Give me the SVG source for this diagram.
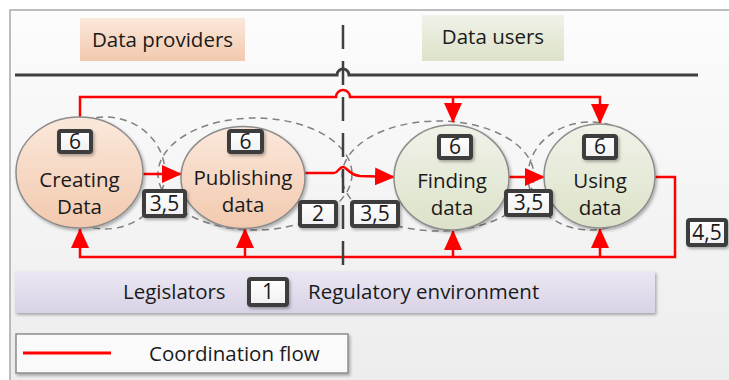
<svg xmlns="http://www.w3.org/2000/svg" width="729" height="380" viewBox="0 0 729 380">
<defs>
<linearGradient id="bg" x1="0" y1="0" x2="0" y2="1"><stop offset="0" stop-color="#fcfcfc"/><stop offset="1" stop-color="#ececec"/></linearGradient>
<linearGradient id="peach" x1="0" y1="0" x2="0" y2="1"><stop offset="0" stop-color="#fbe8db"/><stop offset="1" stop-color="#f2c9ae"/></linearGradient>
<linearGradient id="green" x1="0" y1="0" x2="0" y2="1"><stop offset="0" stop-color="#f0f2e8"/><stop offset="1" stop-color="#dce2c9"/></linearGradient>
<linearGradient id="lav" x1="0" y1="0" x2="0" y2="1"><stop offset="0" stop-color="#ebe8f2"/><stop offset="1" stop-color="#d8d2e6"/></linearGradient>
<linearGradient id="wbox" x1="0" y1="0" x2="0" y2="1"><stop offset="0" stop-color="#ffffff"/><stop offset="1" stop-color="#f0f0f0"/></linearGradient>
<filter id="sh" x="-20%" y="-20%" width="140%" height="150%"><feDropShadow dx="1.5" dy="2" stdDeviation="1.5" flood-color="#000" flood-opacity="0.3"/></filter>
<marker id="ah" viewBox="0 0 20 18" refX="19" refY="9" markerWidth="20" markerHeight="18" markerUnits="userSpaceOnUse" orient="auto"><path d="M0,0 L20,9 L0,18 z" fill="#ff0000"/></marker>
<style>
text{font-family:"Open Sans","Liberation Sans",sans-serif;font-size:20.5px;fill:#1a1a1a}
.c{text-anchor:middle}
.n{font-size:21px}
.red{fill:none;stroke:#ff0000;stroke-width:2.5}
.dash{fill:none;stroke:#808080;stroke-width:1.5;stroke-dasharray:7 5}
.num{fill:url(#wbox);stroke:#3c3c3c;stroke-width:4;filter:url(#sh)}
.node{stroke:#8c8c8c;stroke-width:1.5;filter:url(#sh)}
</style>
</defs>
<rect x="10" y="10" width="740" height="390" fill="url(#bg)" stroke="#a8a8a8" stroke-width="1.5"/>
<g id="header-providers"><rect x="80" y="18" width="165" height="43" fill="url(#peach)"/><text class="c" x="162.5" y="47">Data providers</text></g>
<g id="header-users"><rect x="422" y="15" width="142" height="46" fill="url(#green)"/><text class="c" x="493" y="44">Data users</text></g>
<path d="M15,75 H337 A6,6 0 0 1 349,75 H698" fill="none" stroke="#404040" stroke-width="3"/>
<g id="zones">
<ellipse class="dash" cx="105" cy="173" rx="60" ry="56"/>
<ellipse class="dash" cx="255" cy="174" rx="97" ry="56"/>
<ellipse class="dash" cx="438" cy="176" rx="96" ry="55"/>
<ellipse class="dash" cx="590" cy="176" rx="62" ry="54"/>
</g>
<g id="connectors">
<path class="red" d="M80,119 V97 H336 A7,7 0 0 1 350,97 H600 V123" marker-end="url(#ah)"/>
<path class="red" d="M453,97 V122" marker-end="url(#ah)"/>
<path class="red" d="M143,174 H181" marker-end="url(#ah)"/>
<path class="red" d="M305,173 L334,173 C338,173 339,167 343,167 C347,167 349,175 360,176 L394,177" marker-end="url(#ah)"/>
<path class="red" d="M509,177 H544" marker-end="url(#ah)"/>
<path class="red" d="M655,177 H675 V257 H80 V229" marker-end="url(#ah)"/>
<path class="red" d="M245,257 V229" marker-end="url(#ah)"/>
<path class="red" d="M453,257 V231" marker-end="url(#ah)"/>
<path class="red" d="M600,257 V229" marker-end="url(#ah)"/>
</g>
<path d="M343,25 V265" fill="none" stroke="#404040" stroke-width="2.5" stroke-dasharray="24 12"/>
<g id="creating">
<ellipse class="node" cx="79.5" cy="172.5" rx="63.5" ry="55.5" fill="url(#peach)"/>
<rect class="num" x="59" y="131" width="32" height="21" rx="2"/><text class="c n" x="75" y="149">6</text>
<text class="c" x="79.5" y="187">Creating</text><text class="c" x="79.5" y="214">Data</text>
</g>
<g id="publishing">
<ellipse class="node" cx="243" cy="177.5" rx="62" ry="51" fill="url(#peach)"/>
<rect class="num" x="229" y="131" width="33" height="21" rx="2"/><text class="c n" x="245.5" y="149">6</text>
<text class="c" x="243" y="185">Publishing</text><text class="c" x="243" y="212">data</text>
</g>
<g id="finding">
<ellipse class="node" cx="451.5" cy="177.5" rx="57.5" ry="52.5" fill="url(#green)"/>
<rect class="num" x="439" y="136" width="32" height="22" rx="2"/><text class="c n" x="455" y="154">6</text>
<text class="c" x="452" y="188">Finding</text><text class="c" x="452" y="215">data</text>
</g>
<g id="using">
<ellipse class="node" cx="599.5" cy="176" rx="55.5" ry="52" fill="url(#green)"/>
<rect class="num" x="584" y="136" width="32" height="22" rx="2"/><text class="c n" x="600" y="154">6</text>
<text class="c" x="600" y="188">Using</text><text class="c" x="600" y="215">data</text>
</g>
<g id="labels">
<rect class="num" x="144" y="191" width="41" height="25" rx="2"/><text class="c n" x="164.5" y="211">3,5</text>
<rect class="num" x="300" y="202" width="36" height="24" rx="2"/><text class="c n" x="318" y="221">2</text>
<rect class="num" x="352" y="202" width="46" height="24" rx="2"/><text class="c n" x="375" y="221">3,5</text>
<rect class="num" x="506" y="191" width="45" height="24" rx="2"/><text class="c n" x="528.5" y="210">3,5</text>
<rect class="num" x="688" y="220" width="38" height="25" rx="2"/><text class="c n" x="707" y="240">4,5</text>
</g>
<g id="regulatory">
<rect x="15" y="271" width="640" height="42" fill="url(#lav)" filter="url(#sh)"/>
<text x="123" y="299">Legislators</text>
<rect class="num" x="249" y="279" width="38" height="26" rx="2"/><text class="c n" x="268" y="299">1</text>
<text x="308" y="299">Regulatory environment</text>
</g>
<g id="legend">
<rect x="16" y="334" width="332" height="39" fill="#fafafa" stroke="#8c8c8c" stroke-width="1.5" filter="url(#sh)"/>
<line x1="23" y1="353" x2="111" y2="353" stroke="#ff0000" stroke-width="3"/>
<text x="149" y="361">Coordination flow</text>
</g>
</svg>
